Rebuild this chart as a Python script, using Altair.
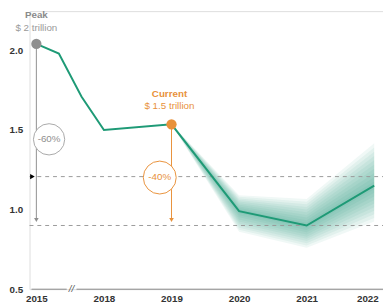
import altair as alt
import pandas as pd

# ---- data ----
x_idx = [0, 0.333, 0.667, 1, 2, 3, 4, 5]
values = [2.04, 1.98, 1.71, 1.50, 1.535, 0.99, 0.90, 1.15]
year_pos = [0, 1, 2, 3, 4, 5]
year_labels = ["2015", "2018", "2019", "2020", "2021", "2022"]
fan_x = [2, 3, 4, 5]
fan_mid = [1.535, 0.99, 0.90, 1.15]
fan_upper = [1.535, 1.09, 1.066, 1.416]
fan_lower = [1.535, 0.86, 0.76, 0.925]
ref_levels = [1.207, 0.90]
y_ticks = [0.5, 1.0, 1.5, 2.0]

GREEN = "#1e9a76"
ORANGE = "#e8913a"
GRAY = "#8f8f8f"
FONT = "Liberation Sans Narrow, Liberation Sans, Arial"

XD = [-0.101, 5.13]
YD = [0.5, 2.246]
xs = alt.Scale(domain=XD, nice=False, zero=False)
ys = alt.Scale(domain=YD, nice=False, zero=False)

label_expr = "[" + ",".join("'%s'" % s for s in year_labels) + "][round(datum.value)]"

line_df = pd.DataFrame({"x": x_idx, "v": values})

# fan bands (layered for a gradient look)
fan_rows = []
fracs = [1.0, 0.9, 0.8, 0.7, 0.6, 0.5, 0.4, 0.3, 0.2, 0.1]
for k, f in enumerate(fracs):
    for xx, m, u, l in zip(fan_x, fan_mid, fan_upper, fan_lower):
        fan_rows.append({"band": k, "x": xx, "hi": m + f * (u - m), "lo": m + f * (l - m)})
fan_df = pd.DataFrame(fan_rows)

base_axes = alt.Chart(line_df).mark_line(opacity=0).encode(
    x=alt.X("x:Q", scale=xs, title=None,
            axis=alt.Axis(values=year_pos, labelExpr=label_expr, domain=False, ticks=False,
                          grid=False, labelPadding=5, labelFontSize=10, labelColor="#333",
                          labelFont=FONT, labelFontWeight="bold",
                          labelOffset={"expr": "datum.value == 5 ? -7 : 0"})),
    y=alt.Y("v:Q", scale=ys, title=None,
            axis=alt.Axis(values=y_ticks, format=".1f", domain=False, ticks=False, grid=False,
                          labelPadding=7, labelFontSize=10, labelColor="#333",
                          labelFont=FONT, labelFontWeight="bold")),
)

fan = alt.Chart(fan_df).mark_area(color=GREEN, opacity=0.065).encode(
    x=alt.X("x:Q", scale=xs), y=alt.Y("hi:Q", scale=ys), y2="lo:Q", detail="band:N")

refs = alt.Chart(pd.DataFrame({"y": ref_levels})).mark_rule(
    color="#9a9a9a", strokeDash=[4, 4], strokeWidth=1).encode(
    y=alt.Y("y:Q", scale=ys), x=alt.value(0), x2=alt.value(361))

tri = alt.Chart(pd.DataFrame({"x": [-0.058], "y": [ref_levels[0]]})).mark_point(
    shape="triangle-right", filled=True, color="black", size=30, opacity=1).encode(
    x=alt.X("x:Q", scale=xs), y=alt.Y("y:Q", scale=ys))

# baseline with break
base_df = pd.DataFrame({"x": [-0.072, 0.594], "x2": [0.449, 5.13], "y": [0.5, 0.5]})
baseline = alt.Chart(base_df).mark_rule(color="#888", strokeWidth=1).encode(
    x=alt.X("x:Q", scale=xs), x2="x2:Q", y=alt.Y("y:Q", scale=ys))
brk = alt.Chart(pd.DataFrame({"x": [0.52], "y": [0.5], "t": ["//"]})).mark_text(
    fontSize=10, color="#555", font=FONT, fontStyle="italic").encode(
    x=alt.X("x:Q", scale=xs), y=alt.Y("y:Q", scale=ys), text="t:N")

# drop arrows
drop_df = pd.DataFrame({"x": [0, 2], "y": [2.04, 1.535], "y2": [0.935, 0.935], "c": [GRAY, ORANGE]})
drops = alt.Chart(drop_df).mark_rule(strokeWidth=1).encode(
    x=alt.X("x:Q", scale=xs), y=alt.Y("y:Q", scale=ys), y2="y2:Q",
    color=alt.Color("c:N", scale=None))
heads = alt.Chart(drop_df).mark_point(shape="triangle-down", filled=True, size=22, opacity=1).encode(
    x=alt.X("x:Q", scale=xs), y=alt.Y("y2:Q", scale=ys), color=alt.Color("c:N", scale=None))

main_line = alt.Chart(line_df).mark_line(color=GREEN, strokeWidth=2).encode(
    x=alt.X("x:Q", scale=xs), y=alt.Y("v:Q", scale=ys))

dots_df = pd.DataFrame({"x": [0, 2], "y": [2.04, 1.535], "c": [GRAY, ORANGE]})
dots = alt.Chart(dots_df).mark_point(filled=True, size=110, opacity=1).encode(
    x=alt.X("x:Q", scale=xs), y=alt.Y("y:Q", scale=ys), color=alt.Color("c:N", scale=None))

circ_df = pd.DataFrame({"x": [0.188, 1.826], "y": [1.441, 1.201], "c": ["#a8a8a8", ORANGE],
                        "t": ["-60%", "-40%"], "tc": [GRAY, ORANGE], "s": [1020, 1130]})
circles = alt.Chart(circ_df).mark_point(filled=False, fill="white", fillOpacity=1,
                                         strokeWidth=1, opacity=1).encode(
    x=alt.X("x:Q", scale=xs), y=alt.Y("y:Q", scale=ys),
    stroke=alt.Stroke("c:N", scale=None), size=alt.Size("s:Q", scale=None))
circ_text = alt.Chart(circ_df).mark_text(fontSize=10, font=FONT).encode(
    x=alt.X("x:Q", scale=xs), y=alt.Y("y:Q", scale=ys), text="t:N",
    color=alt.Color("tc:N", scale=None))

lab_df = pd.DataFrame({
    "x": [0, 0, 1.97, 1.97],
    "y": [2.221, 2.141, 1.723, 1.65],
    "t": ["Peak", "$ 2 trillion", "Current", "$ 1.5 trillion"],
    "c": ["#8a8a8a", "#9a9a9a", ORANGE, ORANGE],
    "w": ["bold", "normal", "bold", "normal"],
})
labels_bold = alt.Chart(lab_df[lab_df.w == "bold"]).mark_text(fontSize=10, font=FONT, fontWeight="bold").encode(
    x=alt.X("x:Q", scale=xs), y=alt.Y("y:Q", scale=ys), text="t:N", color=alt.Color("c:N", scale=None))
labels_norm = alt.Chart(lab_df[lab_df.w == "normal"]).mark_text(fontSize=10, font=FONT).encode(
    x=alt.X("x:Q", scale=xs), y=alt.Y("y:Q", scale=ys), text="t:N", color=alt.Color("c:N", scale=None))

chart = alt.layer(
    base_axes, fan, refs, tri, baseline, brk, drops, heads, main_line, dots,
    circles, circ_text, labels_bold, labels_norm
).properties(
    width=361, height=284,
    autosize=alt.AutoSizeParams(type="none"),
    padding={"left": 22, "top": 0, "right": 0, "bottom": 15},
).configure_view(stroke=None).configure(background="white")

chart.save("out.html", embed_options={"renderer": "svg", "actions": False})
